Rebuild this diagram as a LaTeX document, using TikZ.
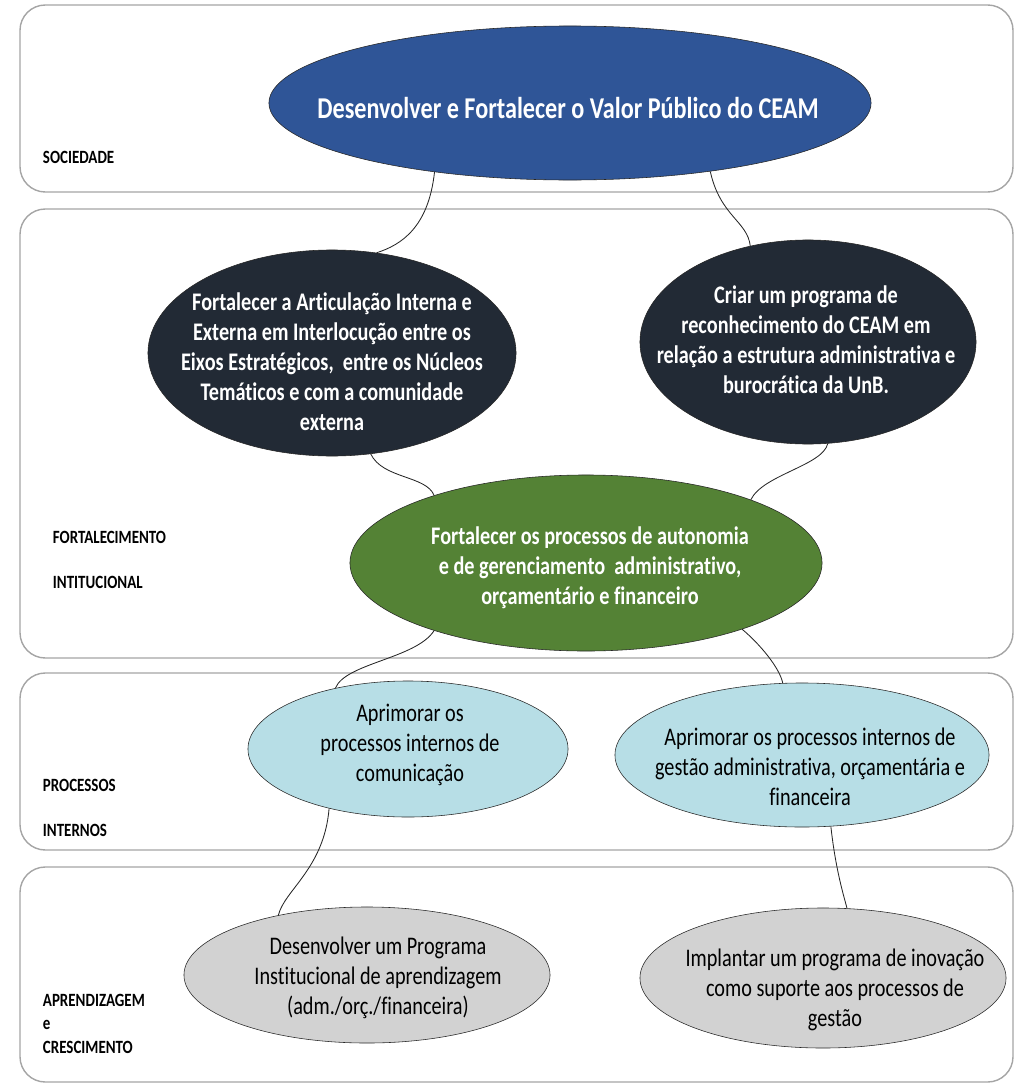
\documentclass[tikz,border=0pt]{standalone}
\usepackage{fontspec}
\setmainfont{Carlito}[FakeStretch=0.8, Ligatures=NoCommon]
\usetikzlibrary{shapes.geometric}

\definecolor{socblue}{RGB}{47,85,151}
\definecolor{navy}{RGB}{34,42,53}
\definecolor{leafgreen}{RGB}{84,130,53}
\definecolor{paleblue}{RGB}{183,222,230}
\definecolor{palegray}{RGB}{210,210,210}
\definecolor{framegray}{RGB}{165,165,165}

\begin{document}
\begin{tikzpicture}[
  x=0.025cm, y=-0.025cm,
  panel/.style={%
    draw=framegray,%
    line width=1pt,%
    rounded corners=18pt%
  },
  goal/.style={%
    ellipse,%
    draw=black!85,%
    %very thick,%
    thin,
    inner sep=0pt%
  },
  goaltext/.style={%
    align=center,%
    font=\fontsize{18}{21.3}\selectfont%
  },
  layer/.style={%
    anchor=west,%
    font=\bfseries\fontsize{13.3}{15}\selectfont%
  },
  link/.style={%
    draw=black!85,%
    line width=0.6pt%
  }
]
  \useasboundingbox (0,0) rectangle (1015,1085);

  % the four layers
  \draw[panel] (20,5)   rectangle (1013,192);
  \draw[panel] (20,209) rectangle (1013,658);
  \draw[panel] (20,673) rectangle (1013,850);
  \draw[panel] (20,867) rectangle (1013,1082);

  \node [layer] (lsoc)  at (38,157)  {SOCIEDADE};
  \node [layer] (lfor)  at (48,537)  {FORTALECIMENTO};
  \node [layer] (lint)  at (48,582)  {INTITUCIONAL};
  \node [layer] (lpro)  at (38,785)  {PROCESSOS};
  \node [layer] (lpin)  at (38,830)  {INTERNOS};
  \node [layer] (lapr)  at (38,1000) {APRENDIZAGEM};
  \node [layer] (le)    at (38,1025) {e};
  \node [layer] (lcre)  at (38,1047) {CRESCIMENTO};

  % objectives
  \node [goal, fill=socblue,   minimum width=15.05cm, minimum height=3.85cm] (soc) at (570,103) {};
  \node [goal, fill=navy,      minimum width=9.2cm,   minimum height=5.15cm] (art) at (332,353) {};
  \node [goal, fill=navy,      minimum width=8.4cm,   minimum height=5.1cm]  (crt) at (808,342) {};
  \node [goal, fill=leafgreen, minimum width=11.8cm,  minimum height=4.4cm]  (fin) at (586,563) {};
  \node [goal, fill=paleblue,  minimum width=8.0cm,   minimum height=3.4cm]  (com) at (408,749) {};
  \node [goal, fill=paleblue,  minimum width=9.35cm,  minimum height=3.6cm]  (ges) at (802,755) {};
  \node [goal, fill=palegray,  minimum width=9.15cm,  minimum height=3.4cm]  (prg) at (367,975) {};
  \node [goal, fill=palegray,  minimum width=9.15cm,  minimum height=3.5cm]  (ino) at (823,978) {};

  \node [goaltext, text=white, font=\bfseries\fontsize{21.5}{24}\selectfont] (soc-t) at (568,108)
    {Desenvolver e Fortalecer o Valor Público do CEAM};
  \node [goaltext, text=white, font=\bfseries\fontsize{18}{21.3}\selectfont] (art-t) at (332,362)
    {Fortalecer a Articulação Interna e\\Externa em Interlocução entre os\\Eixos Estratégicos,~ entre os Núcleos\\Temáticos e com a comunidade\\externa};
  \node [goaltext, text=white, font=\bfseries\fontsize{18}{21.3}\selectfont] (crt-t) at (806,340)
    {Criar um programa de\\reconhecimento do CEAM em\\relação a estrutura administrativa e\\burocrática da UnB.};
  \node [goaltext, text=white, font=\bfseries\fontsize{18}{21.3}\selectfont] (fin-t) at (590,568)
    {Fortalecer os processos de autonomia\\e de gerenciamento~ administrativo,\\orçamentário e financeiro};
  \node [goaltext] (com-t) at (410,745)
    {Aprimorar os\\processos internos de\\comunicação};
  \node [goaltext] (ges-t) at (810,767)
    {Aprimorar os processos internos de\\gestão administrativa, orçamentária e\\financeira};
  \node [goaltext] (prg-t) at (378,978)
    {Desenvolver um Programa\\Institucional de aprendizagem\\(adm./orç./financeira)};
  \node [goaltext] (ino-t) at (835,990)
    {Implantar um programa de inovação\\como suporte aos processos de\\gestão};

  % links between the layers
  \draw[link] (soc.207) .. controls +(-6,55) and +(25,-8) .. (art.66);
  \draw[link] (soc.334) .. controls +(10,45) and +(-3,-25) .. (crt.121);
  \draw[link] (art.291) .. controls +(12,25) and +(-8,-20) .. (fin.156);
  \draw[link] (crt.281) .. controls +(-5,22) and +(12,-25) .. (fin.21);
  \draw[link] (fin.204) .. controls +(-18,28) and +(10,-25) .. (com.140);
  \draw[link] (fin.337) .. controls +(18,15) and +(-3,-15) .. (ges.105);
  \draw[link] (com.217) .. controls +(-5,60) and +(6,-25) .. (prg.146);
  \draw[link] (ges.292) .. controls +(5,45) and +(-3,-12) .. (ino.71);

\end{tikzpicture}
\end{document}
